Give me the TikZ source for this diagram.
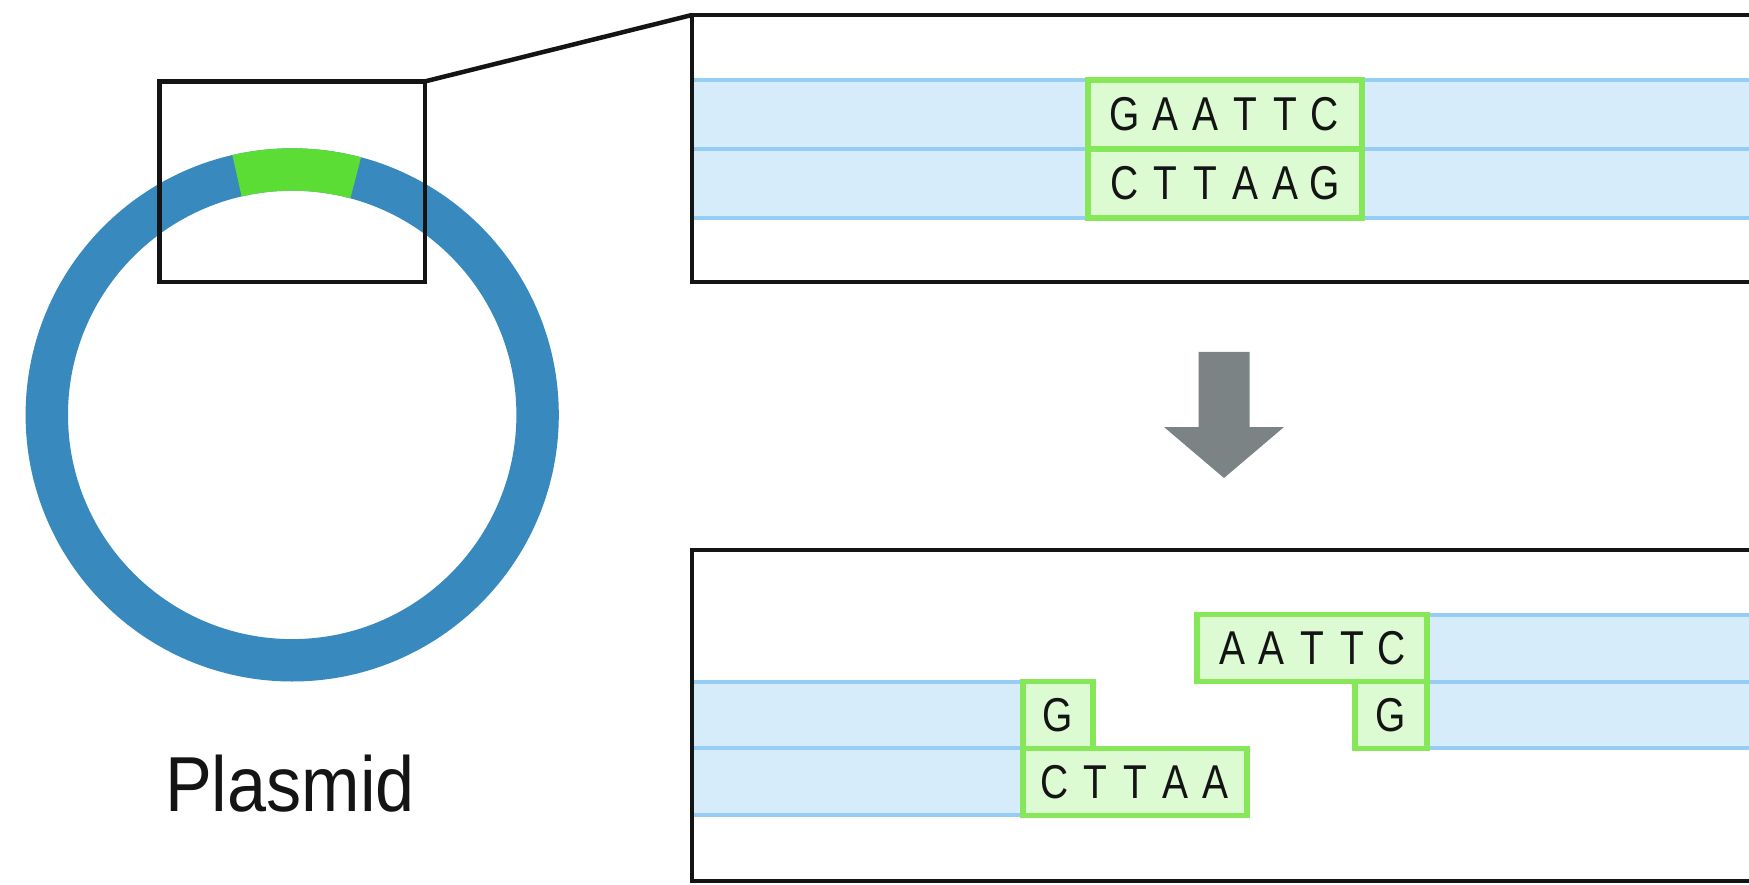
\documentclass[tikz,border=0pt]{standalone}
\usepackage{fontspec}
\setmainfont{Liberation Sans}
\newfontfamily\seqfont[FakeStretch=0.82]{Liberation Sans}
\newfontfamily\labelfont[FakeStretch=0.9]{Liberation Sans}
\definecolor{ringblue}{HTML}{3889BE}
\definecolor{sitegreen}{HTML}{5CDD35}
\definecolor{boxedge}{HTML}{86E858}
\definecolor{boxfill}{HTML}{DDFBD3}
\definecolor{bandfill}{HTML}{D7ECFA}
\definecolor{bandline}{HTML}{95CDF5}
\definecolor{arrowgray}{HTML}{7C8384}
\definecolor{ink}{HTML}{141414}
% one fixed-width cell per base
\newcommand\nt[1]{\makebox[40pt][c]{#1}}
\tikzset{
  frame/.style={draw=ink, line width=4.5pt, inner sep=0pt, outer sep=0pt, anchor=north west},
  seqbox/.style={draw=boxedge, fill=boxfill, line width=5.5pt, inner sep=0pt, outer sep=0pt,
                 text=ink, font=\seqfont\fontsize{47.5}{50}\selectfont},
  band/.style={fill=bandfill},
  strand/.style={draw=bandline, line width=4pt},
  caption/.style={font=\labelfont\fontsize{78}{80}\selectfont, text=ink, anchor=base, inner sep=0pt},
}
\begin{document}
\begin{tikzpicture}[x=1pt,y=1pt]
\useasboundingbox (0,0) rectangle (1749,-885);
\clip (0,0) rectangle (1749,-885);
\fill[white] (0,0) rectangle (1749,-885);

% plasmid ring with the recognition site
\coordinate (ctr) at (292.2,-414.9);
\draw[ringblue, line width=42.4pt] (ctr) circle (245.4);
\draw[sitegreen, line width=42.4pt] ([shift={(75:245.4)}]ctr) arc (75:103:245.4);
\node[caption] (plasmid) at (290,-811) {Plasmid};

% intact double strand
\fill[band] (692,-80) rectangle (1760,-218);
\foreach \yy in {-80,-149,-218} \draw[strand] (692,\yy) -- (1760,\yy);
\node[seqbox, minimum width=274pt, minimum height=69pt] (topseq) at (1225,-114.5)
  {\nt{G}\nt{A}\nt{A}\nt{T}\nt{T}\nt{C}};
\node[seqbox, minimum width=274pt, minimum height=69pt] (botseq) at (1225,-183.5)
  {\nt{C}\nt{T}\nt{T}\nt{A}\nt{A}\nt{G}};

% cut strands with sticky ends
\fill[band] (692,-681.5) rectangle (1023,-815.3);
\foreach \yy in {-681.5,-748.4,-815.3} \draw[strand] (692,\yy) -- (1023,\yy);
\fill[band] (1427,-614.6) rectangle (1760,-748.4);
\foreach \yy in {-614.6,-681.5,-748.4} \draw[strand] (1427,\yy) -- (1760,\yy);
\node[seqbox, minimum width=230pt, minimum height=66.9pt] (rtop) at (1312,-648.05)
  {\nt{A}\nt{A}\nt{T}\nt{T}\nt{C}};
\node[seqbox, minimum width=72pt, minimum height=66.9pt] (rbot) at (1391,-714.95) {\nt{G}};
\node[seqbox, minimum width=70pt, minimum height=66.9pt] (ltop) at (1058,-714.95) {\nt{G}};
\node[seqbox, minimum width=224pt, minimum height=66.9pt] (lbot) at (1135,-781.85)
  {\nt{C}\nt{T}\nt{T}\nt{A}\nt{A}};

% frames and the zoom connector
\node[frame, minimum width=265.5pt, minimum height=200.6pt] (zoom) at (159.5,-81.4) {};
\node[frame, minimum width=1100pt, minimum height=267pt] (cutsite) at (692,-15) {};
\node[frame, minimum width=1100pt, minimum height=331pt] (fragments) at (692,-550) {};
\draw[ink, line width=4.5pt] (zoom.north east) -- (cutsite.north west);

% process arrow
\fill[arrowgray] (1198.5,-352) -- (1249.5,-352) -- (1249.5,-427) -- (1284,-427)
  -- (1224,-478) -- (1164,-427) -- (1198.5,-427) -- cycle;
\end{tikzpicture}
\end{document}
